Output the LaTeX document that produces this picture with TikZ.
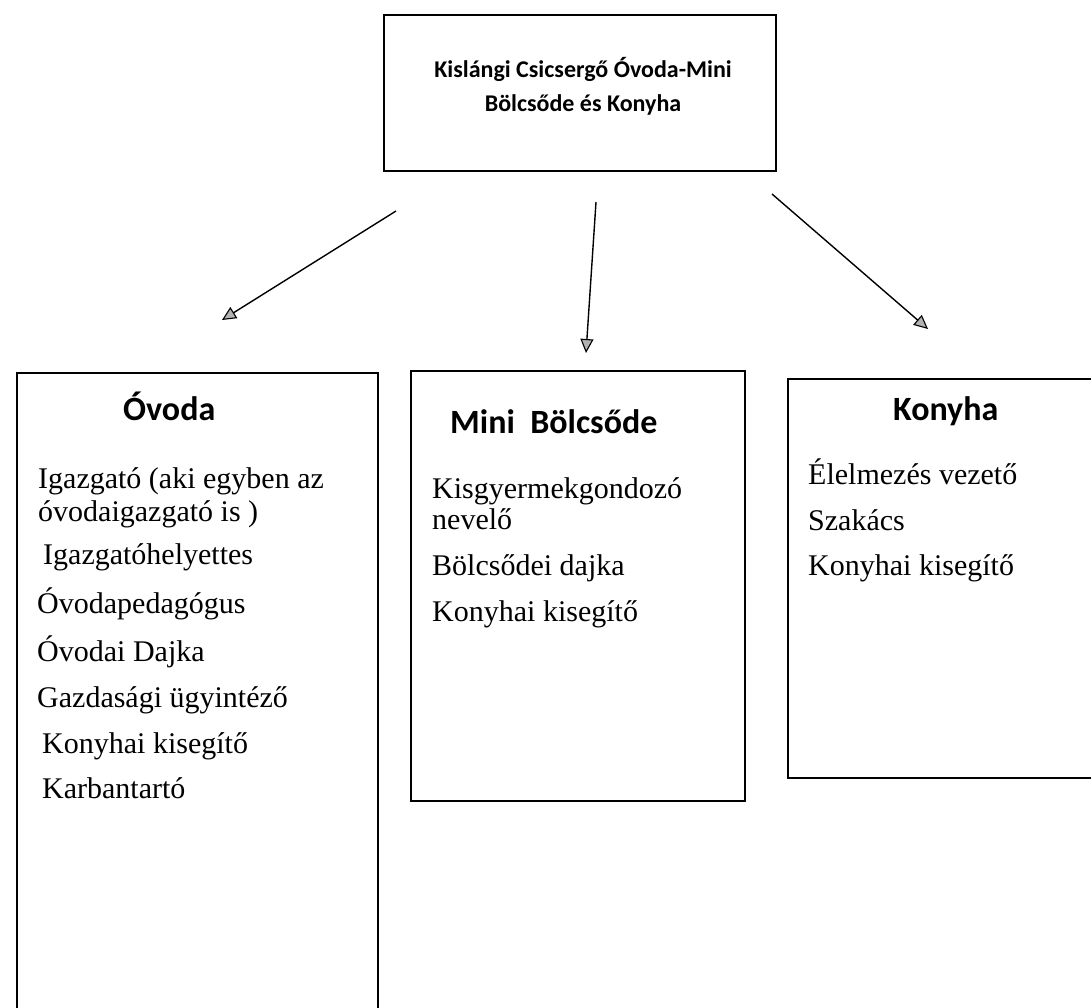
\documentclass[tikz,border=0pt]{standalone}
\usepackage{fontspec}
\setmainfont{Liberation Serif}
\newfontfamily\calib{Carlito}
\usetikzlibrary{arrows.meta}
\begin{document}
\begin{tikzpicture}[x=1pt,y=-1pt,
  frame/.style={draw=black,line width=2.4pt,inner sep=0,anchor=north west},
  ttl/.style={font=\calib\bfseries\fontsize{34}{40}\selectfont,inner sep=0,anchor=base west},
  head/.style={font=\calib\bfseries\fontsize{24}{30}\selectfont,inner sep=0,anchor=base},
  itm/.style={font=\fontsize{30}{36}\selectfont,inner sep=0,anchor=base west},
  arr/.style={line width=1.4pt,-{Triangle[length=14pt,width=13pt,fill=gray!60,line width=1.1pt]}}]
\useasboundingbox (0,0) rectangle (1091,1007);
\fill[white] (0,0) rectangle (1091,1007);

% top box
\node[frame,minimum width=392pt,minimum height=156pt] (top) at (383,14) {};
\node[head] (t1) at (583,77) {Kislángi Csicsergő Óvoda-Mini};
\node[head] (t2) at (583,111) {Bölcsőde és Konyha};

% boxes
\node[frame,minimum width=361pt,minimum height=700pt] (ovoda) at (16,372) {};
\node[frame,minimum width=334pt,minimum height=430pt] (mini) at (410,370) {};
\node[frame,minimum width=400pt,minimum height=399pt] (konyha) at (787,378) {};

% arrows
\coordinate (a1s) at (396,211); \coordinate (a1e) at (222,320);
\coordinate (a2s) at (596,202); \coordinate (a2e) at (586,353);
\coordinate (a3s) at (772,194); \coordinate (a3e) at (928,329);
\draw[arr] (a1s) -- (a1e);
\draw[arr] (a2s) -- (a2e);
\draw[arr] (a3s) -- (a3e);

% Ovoda
\node[ttl] (oT) at (123,420) {Óvoda};
\node[itm] (o1) at (38,488) {Igazgató (aki egyben az};
\node[itm] (o2) at (38,521) {óvodaigazgató is )};
\node[itm] (o3) at (43,564) {Igazgatóhelyettes};
\node[itm] (o4) at (37,613) {Óvodapedagógus};
\node[itm] (o5) at (37,661) {Óvodai Dajka};
\node[itm] (o6) at (37,707) {Gazdasági ügyintéző};
\node[itm] (o7) at (42,753) {Konyhai kisegítő};
\node[itm] (o8) at (42,798) {Karbantartó};

% Mini
\node[ttl] (mT) at (450,433) {Mini\ \ Bölcsőde};
\node[itm] (m1) at (432,498) {Kisgyermekgondozó};
\node[itm] (m2) at (432,529) {nevelő};
\node[itm] (m3) at (432,575) {Bölcsődei dajka};
\node[itm] (m4) at (432,621) {Konyhai kisegítő};

% Konyha
\node[ttl] (kT) at (893,420) {Konyha};
\node[itm] (k1) at (808,484) {Élelmezés vezető};
\node[itm] (k2) at (808,530) {Szakács};
\node[itm] (k3) at (808,575) {Konyhai kisegítő};
\end{tikzpicture}
\end{document}
